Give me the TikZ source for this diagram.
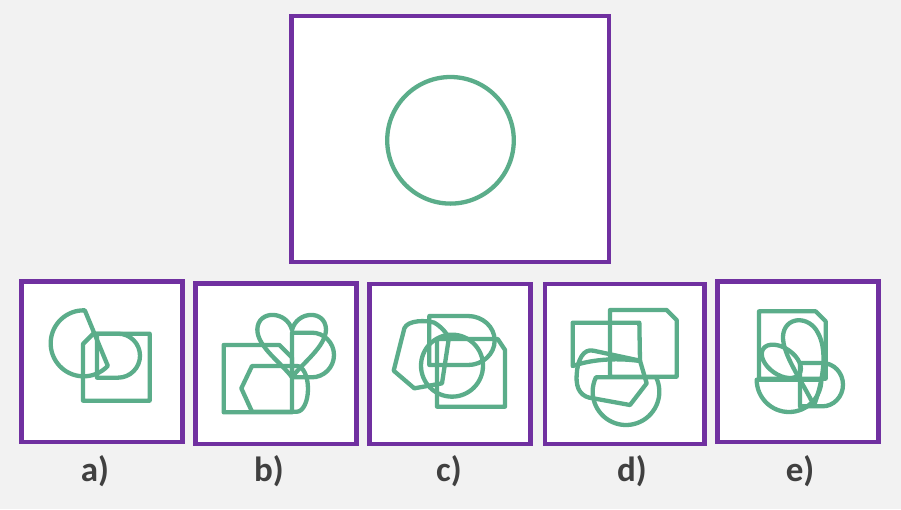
\documentclass[tikz,border=0pt]{standalone}
\usepackage{fontspec}
\setmainfont{Carlito}
\definecolor{gr}{HTML}{5BAD8A}
\definecolor{pu}{HTML}{7030A0}
\definecolor{bg}{HTML}{F2F2F2}
\definecolor{tx}{HTML}{404040}
\tikzset{
  gs/.style={draw=gr, line width=4.3pt, line join=round},
  pbox/.style={draw=pu, line width=4.5pt, fill=white},
  lab/.style={font=\fontsize{35}{35}\selectfont\bfseries, text=tx, inner sep=0pt, anchor=base}
}
\begin{document}
\begin{tikzpicture}[x=1pt,y=-1pt]
\useasboundingbox (0,0) rectangle (901,509);
\fill[bg] (0,0) rectangle (901,509);
% top box
\draw[pbox] (291.5,16) rectangle (609,262);
\draw[gs] (450.5,140.3) circle[radius=63.3];
% option boxes
\draw[pbox] (21.5,281.5) rectangle (182.5,442);
\draw[pbox] (195.5,283.5) rectangle (356.5,444);
\draw[pbox] (369.5,284) rectangle (530.5,444);
\draw[pbox] (545,284) rectangle (704.5,444);
\draw[pbox] (717.5,281.5) rectangle (878.5,442);
% a
\begin{scope}[shift={(18,278)}, scale=1/3]
\draw[gs] (197,196) ++(-88:99) arc[start angle=-88,end angle=-317,radius=99] -- cycle;
\draw[gs] (195,198) -- (226,167) -- (395,167) -- (395,368) -- (195,368) -- cycle;
\draw[gs] (237,299) -- (237,167) -- (300,167) arc[start angle=-90,end angle=90,radius=66] -- cycle;
\end{scope}
% b
\begin{scope}[shift={(192,280)}, scale=1/3]
\draw[gs] (95,195) -- (262,195) -- (300,233) -- (300,397) -- (95,397) -- cycle;
\draw[gs] (148,325) -- (180,258) -- (315,258) arc[start angle=-90,end angle=90,x radius=33,y radius=68.5] -- (180,395) -- cycle;
\draw[gs] (300,150) .. controls (285,92) and (198,88) .. (196,148) .. controls (195,200) and (270,250) .. (300,292) .. controls (330,250) and (402,200) .. (402,148) .. controls (400,88) and (315,92) .. (300,150) -- cycle;
\draw[gs] (300,292) -- (300,158) -- (359,158) arc[start angle=-90,end angle=90,radius=67] -- cycle;
\end{scope}
% c
\begin{scope}[shift={(366,280)}, scale=1/3]
\draw[gs] (190,255) -- (190,108) -- (306,108) arc[start angle=-90,end angle=90,x radius=80,y radius=73.5] -- cycle;
\draw[gs] (258,257) circle[radius=93];
\draw[gs] (213,177) -- (395,177) -- (417,210) -- (417,380) -- (213,380) -- cycle;
\draw[gs] (83,272) -- (115,145) .. controls (125,120) and (180,120) .. (205,128) .. controls (225,140) and (245,160) .. (248,178) -- (228,310) -- (145,325) -- cycle;
\end{scope}
% d
\begin{scope}[shift={(540,280)}, scale=1/3]
\draw[gs] (98,258) -- (98,128) -- (298,128) -- (300,243) .. controls (220,232) and (150,240) .. (98,258) -- cycle;
\draw[gs] (210,290) -- (210,90) -- (380,90) -- (410,120) -- (410,290) -- cycle;
\draw[gs] (258,335) ++(-25.5:100) arc[start angle=-25.5,end angle=205.5,radius=100] -- cycle;
\draw[gs] (300,242) -- (160,212) .. controls (130,205) and (112,240) .. (110,285) .. controls (107,330) and (125,352) .. (160,355) -- (270,375) -- (320,310) -- cycle;
\end{scope}
% e
\begin{scope}[shift={(714,278)}, scale=1/3]
\draw[gs] (135,302) -- (135,100) -- (305,100) -- (335,130) -- (335,302) -- cycle;
\draw[gs, rotate around={-35:(202,250)}] (202,250) ellipse[x radius=66,y radius=40];
\draw[gs] (300,383) .. controls (265,310) and (205,230) .. (207,175) .. controls (210,115) and (285,110) .. (312,165) .. controls (340,215) and (330,300) .. (300,383) -- cycle;
\draw[gs] (128,305) arc[start angle=180,end angle=0,radius=97] -- cycle;
\draw[gs] (258,385) -- (258,255) -- (325,255) arc[start angle=-90,end angle=90,x radius=62,y radius=65] -- cycle;
\end{scope}
% labels
\node[lab] (la) at (95,481) {a)};
\node[lab] (lb) at (269,481) {b)};
\node[lab] (lc) at (449,481) {c)};
\node[lab] (ld) at (632,481) {d)};
\node[lab] (le) at (800,481) {e)};
\end{tikzpicture}
\end{document}
